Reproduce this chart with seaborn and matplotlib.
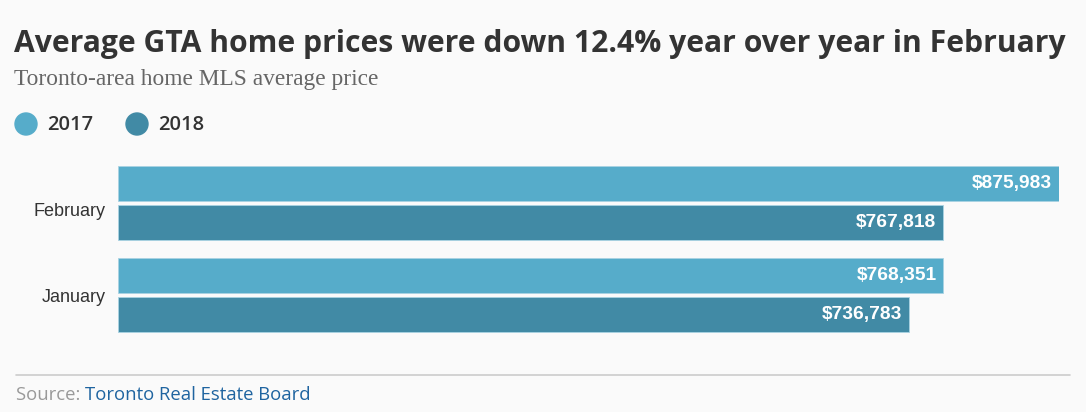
import numpy as np
import pandas as pd
import seaborn as sns
import matplotlib.pyplot as plt
import matplotlib.transforms as mtransforms
from matplotlib.patches import Circle
from matplotlib.lines import Line2D

# dados do gráfico
months = ["February", "January"]
years = ["2017", "2018"]
prices_2017 = [875983, 768351]
prices_2018 = [767818, 736783]
colors = ["#56acca", "#418aa5"]

df = pd.DataFrame({
    "month": months * 2,
    "year": [years[0]] * 2 + [years[1]] * 2,
    "price": prices_2017 + prices_2018,
})

sns.set_theme(style="white")
bg = "#fafafa"
fig = plt.figure(figsize=(10.86, 4.12), dpi=100, facecolor=bg)

ax = fig.add_axes([118 / 1086, (412 - 341) / 412, (1059 - 118) / 1086, 184 / 412])
ax.set_facecolor(bg)
sns.barplot(data=df, y="month", x="price", hue="year", orient="h",
            palette=colors, saturation=1, width=0.83, gap=0.08, legend=False,
            edgecolor="#a9d3e3", linewidth=0.6, ax=ax)
ax.set_xlim(0, max(prices_2017 + prices_2018))
ax.set_ylim(1.5, -0.5)
ax.set_xlabel("")
ax.set_ylabel("")
ax.set_xticks([])
ax.tick_params(axis="y", length=0, pad=9, labelsize=13, labelcolor="#333333")
for i, lab in enumerate(ax.get_yticklabels()):
    lab.set_fontfamily("Liberation Sans")
    if i == 0:
        lab.set_transform(lab.get_transform() + mtransforms.ScaledTranslation(0, -7 / 100, fig.dpi_scale_trans))
for s in ax.spines.values():
    s.set_visible(False)

# rótulos de valor dentro das barras
for cont in ax.containers:
    for p in cont:
        w = p.get_width()
        ax.annotate("${:,.0f}".format(w), (w, p.get_y() + p.get_height() / 2),
                    xytext=(-5, 0), textcoords="offset points", ha="right", va="center",
                    color="white", fontsize=13.8, fontweight="bold", fontfamily="Liberation Sans")

# títulos
fig.text(14 / 1086, 1 - 44 / 412, "Average GTA home prices were down 12.4% year over year in February",
         fontsize=21.7, fontweight="bold", color="#333333", fontfamily="Open Sans", va="center")
fig.text(14 / 1086, 1 - 80 / 412, "Toronto-area home MLS average price",
         fontsize=16.8, color="#666666", fontfamily="Liberation Serif", va="center")

# legenda
for i, (yr, c) in enumerate(zip(years, colors)):
    cx = 26 + i * 111
    fig.add_artist(Circle((cx / 100, (412 - 124) / 100), 11 / 100, transform=fig.dpi_scale_trans,
                          color=c))
    fig.text((cx + 21) / 1086, 1 - 125 / 412, yr, fontsize=14.5, fontweight="semibold",
             color="#333333", fontfamily="Open Sans", va="center")

# rodapé
fig.add_artist(Line2D([16 / 1086, 1070 / 1086], [1 - 375 / 412] * 2, color="#cccccc", lw=1.2))
t = fig.text(16 / 1086, 1 - 395 / 412, "Source: ", fontsize=13.3, color="#999999",
             fontfamily="Open Sans", va="center")
fig.canvas.draw()
bb = t.get_window_extent()
fig.text(bb.x1 / 1086, 1 - 395 / 412, "Toronto Real Estate Board", fontsize=13.3, color="#1f64a0",
         fontfamily="Open Sans", va="center")

fig.savefig("out.png", dpi=100, facecolor=bg)
